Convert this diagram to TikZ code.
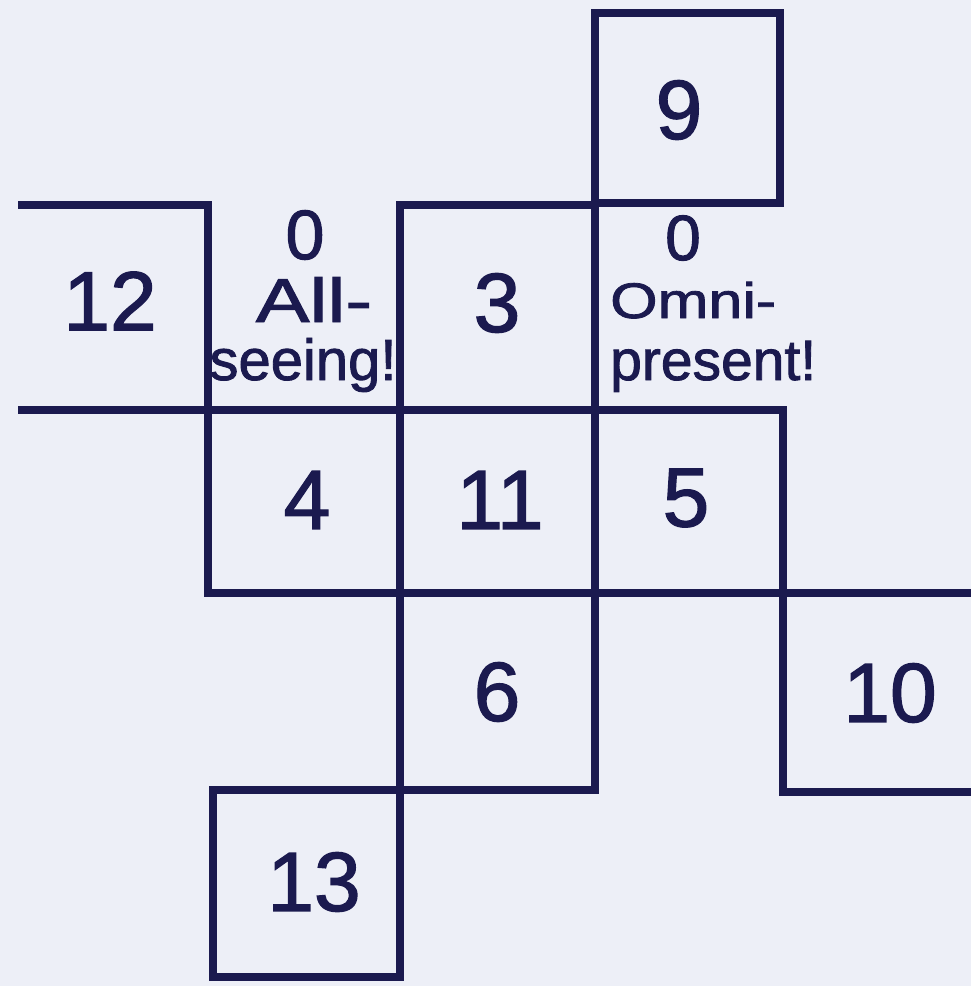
\documentclass[tikz,border=0pt]{standalone}
\usepackage{fontspec}
\setmainfont{Liberation Sans}[FakeBold=1.5]
\definecolor{ink}{HTML}{1B1A4F}
\definecolor{paper}{HTML}{EDEFF7}
\newcommand{\fs}[1]{\fontsize{#1}{#1}\selectfont}
\begin{document}
\begin{tikzpicture}[x=1pt,y=-1pt,
  grid/.style={draw=ink,line width=7.5pt,line join=miter,line cap=rect},
  num/.style={text=ink,inner sep=0pt,font=\fs{84}},
  word/.style={text=ink,inner sep=0pt}]
\fill[paper] (0,0) rectangle (971,986);
\useasboundingbox (0,0) rectangle (971,986);
% grid lines
\draw[grid] (22,205) -- (208,205) -- (208,593) -- (971,593);
\draw[grid] (22,410) -- (783,410) -- (783,792) -- (971,792);
\draw[grid] (400,205) -- (595,205);
\draw[grid] (595,13) rectangle (780,203);
\draw[grid] (400,205) -- (400,977);
\draw[grid] (595,203) -- (595,790);
\draw[grid] (213,790) -- (595,790);
\draw[grid] (213,790) -- (213,977) -- (400,977);
% labels
\node[num] (n12) at (110,301) {12};
\node[num] (n9) at (679,110) {9};
\node[num] (n3) at (497,303) {3};
\node[num] (n4) at (307,500) {4};
\node[num] (n11) at (500,500) {11};
\node[num] (n5) at (686,498) {5};
\node[num] (n6) at (497,692) {6};
\node[num] (n10) at (890,693) {10};
\node[num] (n13) at (314,882) {13};
\node[word,font=\fs{70}] (z1) at (305,235) {0};
\node[word,font=\fs{62},anchor=base] (all) at (314,322) {\scalebox{1.3}[1]{All-}};
\node[word,font=\fs{58},anchor=base] (seeing) at (303,380) {seeing!};
\node[word,font=\fs{64}] (z2) at (683,238) {0};
\node[word,font=\fs{50},anchor=base west] (omni) at (610,318) {\scalebox{1.22}[1]{Omni-}};
\node[word,font=\fs{57},anchor=base west] (present) at (610,380) {present!};
\end{tikzpicture}
\end{document}
